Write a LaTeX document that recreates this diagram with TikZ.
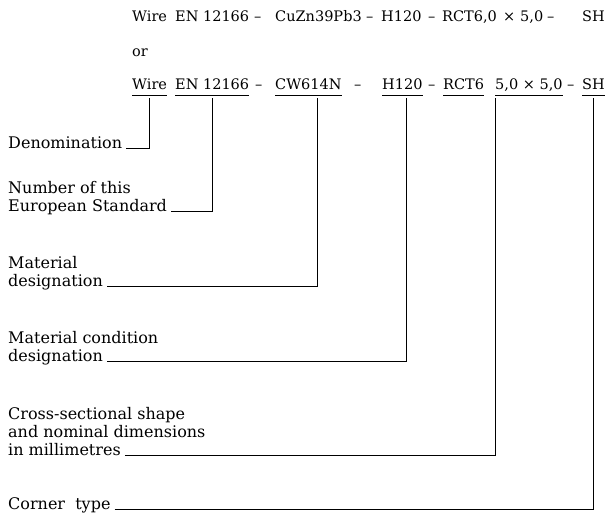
\documentclass[tikz,border=0pt]{standalone}
\usepackage{fontspec}
\setmainfont{DejaVu Serif}
\usepackage{tikz}

\begin{document}
\begin{tikzpicture}[x=1pt,y=-1pt,
        code/.style={anchor=base west,inner sep=0pt,font=\fontsize{14.5}{18}\selectfont},
        lbl/.style={anchor=base west,inner sep=0pt,font=\fontsize{16}{18}\selectfont},
        lead/.style={line width=0.8pt}]
        \useasboundingbox (0,0) rectangle (609,513);
        %% first designation
        \node[code] (wireA) at (132,22) {Wire};
        \node[code] (enA) at (175,22) {EN 12166};
        \node[code] (dA1) at (254,22) {--};
        \node[code] (matA) at (275,22) {CuZn39Pb3};
        \node[code] (dA2) at (366,22) {--};
        \node[code] (hA) at (381,22) {H120};
        \node[code] (dA3) at (428,22) {--};
        \node[code] (rctA) at (442,22) {RCT6,0};
        \node[code] (xA) at (503,22) {×};
        \node[code] (bA) at (520,22) {5,0};
        \node[code] (dA4) at (547,22) {--};
        \node[code] (shA) at (582,22) {SH};
        \node[code] (or) at (132,57) {or};
        %% second designation
        \node[code] (wireB) at (132,90) {Wire};
        \node[code] (enB) at (175,90) {EN 12166};
        \node[code] (dB1) at (255,90) {--};
        \node[code] (cwB) at (275,90) {CW614N};
        \node[code] (dB2) at (354,90) {--};
        \node[code] (hB) at (382,90) {H120};
        \node[code] (dB3) at (428,90) {--};
        \node[code] (rctB) at (443,90) {RCT6};
        \node[code] (dimB) at (495,90) {5,0 × 5,0};
        \node[code] (dB4) at (567,90) {--};
        \node[code] (shB) at (582,90) {SH};
        %% underlines
        \draw[lead] ([yshift=-5pt]wireB.base west) -- ([yshift=-5pt]wireB.base east);
        \draw[lead] ([yshift=-5pt]enB.base west) -- ([yshift=-5pt]enB.base east);
        \draw[lead] ([yshift=-5pt]cwB.base west) -- ([yshift=-5pt]cwB.base east);
        \draw[lead] ([yshift=-5pt]hB.base west) -- ([yshift=-5pt]hB.base east);
        \draw[lead] ([yshift=-5pt]rctB.base west) -- ([yshift=-5pt]rctB.base east);
        \draw[lead] ([yshift=-5pt]dimB.base west) -- ([yshift=-5pt]dimB.base east);
        \draw[lead] ([yshift=-5pt]shB.base west) -- ([yshift=-5pt]shB.base east);
        %% labels
        \node[lbl] (den) at (8,148) {Denomination};
        \node[lbl] (num) at (8,211) {European Standard};
        \node[lbl] (num1) at ([yshift=18pt]num.base west) {Number of this};
        \node[lbl] (mat) at (8,286) {designation};
        \node[lbl] (mat1) at ([yshift=18pt]mat.base west) {Material};
        \node[lbl] (cond) at (8,361) {designation};
        \node[lbl] (cond1) at ([yshift=18pt]cond.base west) {Material condition};
        \node[lbl] (cross) at (8,455) {in millimetres};
        \node[lbl] (cross2) at ([yshift=18pt]cross.base west) {and nominal dimensions};
        \node[lbl] (cross1) at ([yshift=18pt]cross2.base west) {Cross-sectional shape};
        \node[lbl] (corner) at (8,509) {Corner\ \ type};
        %% leaders
        \draw[lead] ([xshift=4pt]den.base east) -| ([yshift=-8pt]wireB.base);
        \draw[lead] ([xshift=4pt]num.base east) -| ([yshift=-8pt]enB.base);
        \draw[lead] ([xshift=4pt]mat.base east) -| ([xshift=9pt,yshift=-8pt]cwB.base);
        \draw[lead] ([xshift=4pt]cond.base east) -| ([xshift=4pt,yshift=-8pt]hB.base);
        \draw[lead] ([xshift=4pt]cross.base east) -| ([yshift=-8pt]dimB.base west);
        \draw[lead] ([xshift=4pt]corner.base east) -| ([yshift=-8pt]shB.base);
\end{tikzpicture}
\end{document}
